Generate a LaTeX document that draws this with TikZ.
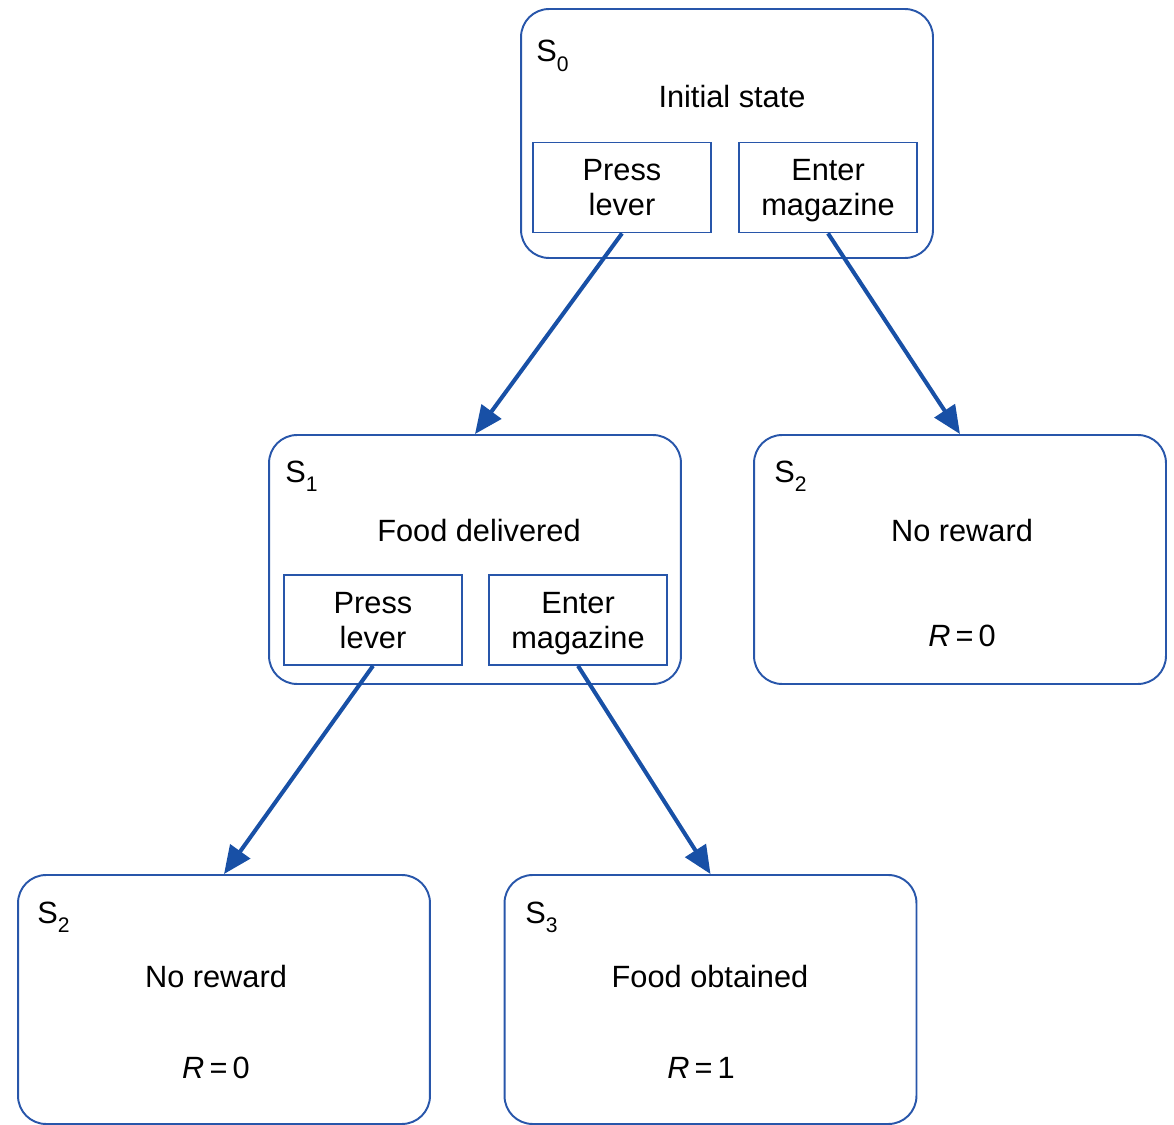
\documentclass[tikz,border=0pt]{standalone}
\usepackage{fontspec}
\setmainfont{Liberation Sans}
\usetikzlibrary{positioning,arrows.meta}
\definecolor{stateblue}{RGB}{40,86,170}
\definecolor{arrowblue}{RGB}{24,80,166}
\newcommand{\stname}[1]{S\raisebox{-5.5pt}{\fontsize{12}{12}\selectfont #1}}

\begin{document}
\begin{tikzpicture}[x=0.02cm,y=-0.02cm,
  every node/.style={font=\fontsize{17.5}{19.9}\selectfont},
  state/.style={draw=stateblue,line width=1.1pt,rounded corners=0.56cm,minimum width=8.24cm,minimum height=4.98cm,inner sep=0pt},
  act/.style={draw=stateblue,line width=1pt,minimum width=3.56cm,minimum height=1.8cm,align=center,inner sep=0pt,text depth=0pt},
  lbl/.style={anchor=base west,inner sep=0pt},
  txt/.style={anchor=base,inner sep=0pt},
  arr/.style={draw=arrowblue,line width=2.3pt,-{Triangle[length=0.56cm,width=0.48cm]}}]
\useasboundingbox (0,0) rectangle (1174,1125);
% S0: initial state
\node[state] (s0) at (727,133.5) {};
\node[lbl] (s0lbl) at (536,62) {\stname{0}};
\node[txt] (s0txt) at (732,108) {Initial state};
\node[act] (s0press) at (622,187.5) {Press\\lever};
\node[act] (s0enter) at (828,187.5) {Enter\\magazine};
% S1: food delivered
\node[state] (s1) at (475,559.5) {};
\node[lbl] (s1lbl) at (285,482) {\stname{1}};
\node[txt] (s1txt) at (479,541) {Food delivered};
\node[act] (s1press) at (373,620) {Press\\lever};
\node[act] (s1enter) at (578,620) {Enter\\magazine};
% S2 (right): no reward
\node[state] (s2a) at (960,559.5) {};
\node[lbl] (s2albl) at (774,482) {\stname{2}};
\node[txt] (s2atxt) at (962,541) {No reward};
\node[txt] (s2arew) at (962,646) {\textit{R}\,=\,0};
% S2 (bottom): no reward
\node[state] (s2b) at (224,999.5) {};
\node[lbl] (s2blbl) at (37,923) {\stname{2}};
\node[txt] (s2btxt) at (216,987) {No reward};
\node[txt] (s2brew) at (216,1078) {\textit{R}\,=\,0};
% S3: food obtained
\node[state] (s3) at (710.5,999.5) {};
\node[lbl] (s3lbl) at (525,923) {\stname{3}};
\node[txt] (s3txt) at (710,987) {Food obtained};
\node[txt] (s3rew) at (701,1078) {\textit{R}\,=\,1};
% transitions
\draw[arr] (s0press.south) -- (s1.north);
\draw[arr] (s0enter.south) -- (s2a.north);
\draw[arr] (s1press.south) -- (s2b.north);
\draw[arr] (s1enter.south) -- (s3.north);
\end{tikzpicture}
\end{document}
